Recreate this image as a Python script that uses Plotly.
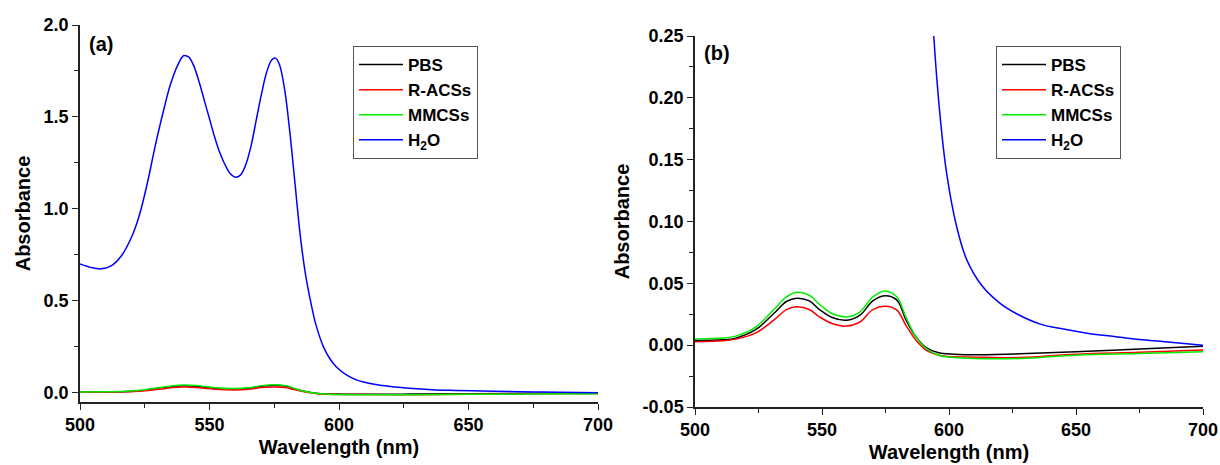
import plotly.graph_objects as go

# ---------------- data ----------------
# H2O spectrum (wavelength nm, absorbance)
wl_h2o = [500, 504, 508, 512, 516, 520, 523, 526, 529, 532, 535, 538, 540, 542, 544, 546,
          548, 550, 552, 554, 556, 558, 560, 562, 564, 566, 568, 570, 572, 574, 575.5,
          577, 579, 581, 583, 585, 587, 589, 591, 594, 596.5, 599, 603, 607, 613, 620,
          627, 636, 645, 655, 665, 675, 685, 700]
abs_h2o = [0.700, 0.682, 0.674, 0.690, 0.745, 0.850, 0.970, 1.140, 1.340, 1.520, 1.680,
           1.790, 1.833, 1.825, 1.775, 1.690, 1.590, 1.490, 1.390, 1.305, 1.240, 1.192,
           1.172, 1.185, 1.240, 1.340, 1.480, 1.620, 1.740, 1.810, 1.820, 1.785, 1.650,
           1.420, 1.140, 0.860, 0.650, 0.500, 0.375, 0.250, 0.185, 0.140, 0.096, 0.069,
           0.048, 0.034, 0.025, 0.017, 0.013, 0.0095, 0.007, 0.0045, 0.0028, 0.000]

# PBS / R-ACSs / MMCSs spectra share one wavelength grid
wl_s = [500, 511, 516, 524, 531, 536, 540, 545, 549, 554, 559.7, 565, 570, 575, 579.5,
        583, 587, 591, 596, 602, 610, 628, 650, 675, 700]
abs_pbs = [0.0038, 0.0043, 0.0057, 0.0127, 0.0256, 0.0353, 0.0380, 0.0358, 0.0288, 0.0224,
           0.0202, 0.0243, 0.0358, 0.0400, 0.0364, 0.0207, 0.0067, -0.0019, -0.0062, -0.0073,
           -0.0078, -0.0070, -0.0054, -0.0030, -0.0008]
abs_racs = [0.0027, 0.0035, 0.0049, 0.0100, 0.0202, 0.0288, 0.0310, 0.0288, 0.0229, 0.0175,
            0.0154, 0.0189, 0.0288, 0.0315, 0.0283, 0.0162, 0.0040, -0.0040, -0.0081, -0.0094,
            -0.0097, -0.0100, -0.0073, -0.0058, -0.0040]
abs_mmcs = [0.0049, 0.0057, 0.0073, 0.0148, 0.0288, 0.0390, 0.0428, 0.0404, 0.0331, 0.0256,
            0.0229, 0.0270, 0.0390, 0.0439, 0.0390, 0.0229, 0.0067, -0.0027, -0.0081, -0.0100,
            -0.0108, -0.0108, -0.0081, -0.0068, -0.0054]

series_names = ["PBS", "R-ACSs", "MMCSs", "H<sub>2</sub>O"]
series_colors = ["#000000", "#ff0000", "#00ee00", "#0000ff"]

x_ticks = [500, 550, 600, 650, 700]
ya_ticks = [0.0, 0.5, 1.0, 1.5, 2.0]
ya_text = ["0.0", "0.5", "1.0", "1.5", "2.0"]
yb_ticks = [-0.05, 0.00, 0.05, 0.10, 0.15, 0.20, 0.25]
yb_text = ["-0.05", "0.00", "0.05", "0.10", "0.15", "0.20", "0.25"]
panel_labels = ["(a)", "(b)"]

# ---------------- figure ----------------
W, H = 1220, 465
FONT = "Liberation Sans, Arial, sans-serif"
fig = go.Figure()

data_sets = [(wl_s, abs_pbs), (wl_s, abs_racs), (wl_s, abs_mmcs), (wl_h2o, abs_h2o)]
for panel, (xa, ya, lg) in enumerate([("x", "y", "legend"), ("x2", "y2", "legend2")]):
    for (xs, ys), name, col in zip(data_sets, series_names, series_colors):
        fig.add_trace(go.Scatter(
            x=xs, y=ys, name=f"<b>{name}</b>", mode="lines",
            line=dict(color=col, width=1.5, shape="spline", smoothing=1.0),
            xaxis=xa, yaxis=ya, legend=lg, cliponaxis=True))

def px_x(p):
    return p / W

def px_y(p):
    return 1 - p / H

axis_common = dict(showgrid=False, zeroline=False, showline=True, linecolor="#222",
                   linewidth=1.5, ticks="outside", ticklen=6, tickwidth=1.3,
                   tickcolor="#222", mirror=False, automargin=False,
                   tickfont=dict(family=FONT, size=18, color="#000"))
title_font = dict(family=FONT, size=20, color="#000")
legend_common = dict(xanchor="left", yanchor="top",
                     bordercolor="#555", borderwidth=1, bgcolor="white",
                     font=dict(family=FONT, size=17, color="#000"),
                     tracegroupgap=0, itemwidth=44)

fig.update_layout(
    width=W, height=H,
    margin=dict(l=0, r=0, t=0, b=0),
    paper_bgcolor="white", plot_bgcolor="white",
    showlegend=True,
    xaxis=dict(domain=[px_x(80), px_x(598)], range=[500, 700], anchor="y",
               tickmode="array", tickvals=x_ticks,
               minor=dict(ticks="outside", dtick=25, tick0=500, ticklen=4, tickcolor="#222"),
               title=dict(text="<b>Wavelength (nm)</b>", font=title_font, standoff=6),
               **axis_common),
    yaxis=dict(domain=[px_y(402), px_y(25)], range=[-0.05, 2.0], anchor="x",
               tickmode="array", tickvals=ya_ticks, ticktext=[f"<b>{t}</b>" for t in ya_text],
               minor=dict(ticks="outside", dtick=0.25, tick0=0, ticklen=4, tickcolor="#222"),
               title=dict(text="<b>Absorbance</b>", font=title_font, standoff=8),
               **axis_common),
    xaxis2=dict(domain=[px_x(695), px_x(1203)], range=[500, 700], anchor="y2",
                tickmode="array", tickvals=x_ticks,
                minor=dict(ticks="outside", dtick=25, tick0=500, ticklen=4, tickcolor="#222"),
                title=dict(text="<b>Wavelength (nm)</b>", font=title_font, standoff=6),
                **axis_common),
    yaxis2=dict(domain=[px_y(407), px_y(36)], range=[-0.05, 0.25], anchor="x2",
                tickmode="array", tickvals=yb_ticks, ticktext=[f"<b>{t}</b>" for t in yb_text],
                minor=dict(ticks="outside", dtick=0.025, tick0=0, ticklen=4, tickcolor="#222"),
                title=dict(text="<b>Absorbance</b>", font=title_font, standoff=8),
                **axis_common),
    legend=dict(x=px_x(353), y=px_y(46), **legend_common),
    legend2=dict(x=px_x(996), y=px_y(46), **legend_common),
)

# bold x tick labels
fig.update_xaxes(ticktext=[f"<b>{v}</b>" for v in x_ticks])

fig.add_annotation(text=f"<b>{panel_labels[0]}</b>", x=px_x(87), y=px_y(44), xref="paper", yref="paper",
                   xanchor="left", yanchor="middle", showarrow=False,
                   font=dict(family=FONT, size=20, color="#000"))
fig.add_annotation(text=f"<b>{panel_labels[1]}</b>", x=px_x(702), y=px_y(53), xref="paper", yref="paper",
                   xanchor="left", yanchor="middle", showarrow=False,
                   font=dict(family=FONT, size=20, color="#000"))

fig.write_html("out.html", config={"displayModeBar": False},
               post_script="document.body.style.margin='0';document.body.style.padding='0';")
